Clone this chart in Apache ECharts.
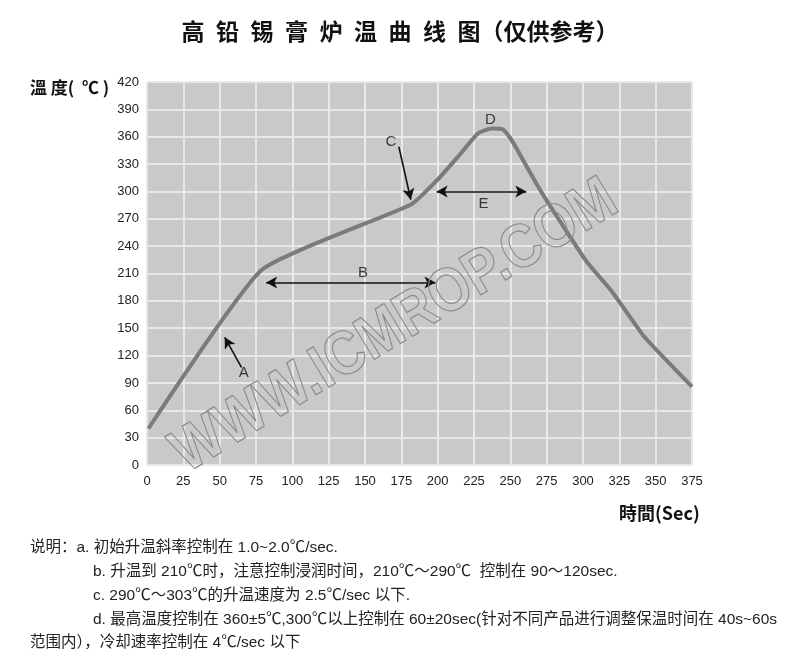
<!DOCTYPE html>
<html>
<head>
<meta charset="utf-8">
<script src="https://cdn.jsdelivr.net/npm/echarts@6/dist/echarts.min.js"></script>
<style>html,body{margin:0;padding:0;background:#fff;}#c{width:800px;height:651px;}</style>
</head>
<body>
<div id="c"></div>
<script>
// ---- data ----
var timeSec = [1, 79, 182, 200, 215, 228, 237, 245, 251, 270, 290, 303, 320, 342, 375];
var tempC   = [40, 214, 286, 313, 340, 364, 369, 368, 356, 303, 253, 222, 190, 141, 86];
var xTicks = {min: 0, max: 375, step: 25};
var yTicks = {min: 0, max: 420, step: 30};
// annotation arrows: [x1,y1,x2,y2, startSymbol, endSymbol]
var arrowA = [65, 107, 53.5, 140, 'none', 'arrow'];
var arrowB = [82, 200, 198.5, 200, 'arrow', 'arrow'];
var arrowC = [173.3, 349, 181.5, 291, 'none', 'arrow'];
var arrowE = [199.3, 300, 261, 300, 'arrow', 'arrow'];
var labelNames = ['A', 'B', 'C', 'D', 'E'];
var labelX = [66.5, 148.6, 167.8, 236.3, 231.5];
var labelY = [101, 211, 354, 378, 286];
var notes = [
  '说明：a. 初始升温斜率控制在 1.0~2.0℃/sec.',
  'b. 升温到 210℃时，注意控制浸润时间，210℃～290℃  控制在 90～120sec.',
  'c. 290℃～303℃的升温速度为 2.5℃/sec 以下.',
  'd. 最高温度控制在 360±5℃,300℃以上控制在 60±20sec(针对不同产品进行调整保温时间在 40s~60s',
  '范围内），冷却速率控制在 4℃/sec 以下'
];
var noteX = [30, 93, 93, 93, 30];
var noteY = [548, 572, 596, 620, 643];

var chart = echarts.init(document.getElementById('c'), null, {renderer: 'canvas'});

function arrowItem(a) {
  return [
    {coord: [a[0], a[1]], symbol: a[4]},
    {coord: [a[2], a[3]], symbol: a[5]}
  ];
}

var seriesData = timeSec.map(function (t, i) { return [t, tempC[i]]; });
var labelData = labelNames.map(function (n, i) { return {name: n, value: [labelX[i], labelY[i]]}; });

var narrow = '"Liberation Sans Narrow", "Liberation Sans", Arial, sans-serif';
var cjk = '"Liberation Sans", "Noto Sans CJK SC", sans-serif';

var graphics = [
  {
    type: 'text', left: 30, top: 79,
    style: {text: '溫 度(  ℃ )', font: 'bold 17px "Noto Sans CJK TC", sans-serif', fill: '#111'}
  },
  {
    type: 'text', left: 619, top: 504,
    style: {text: '時間(Sec)', font: 'bold 18px "Noto Sans CJK TC", sans-serif', fill: '#111'}
  },
  {
    type: 'text', x: 395, y: 327, rotation: 0.545, scaleX: 0.86, z: 100,
    style: {
      text: 'WWW.ICMROP.COM', font: 'bold 62px "Liberation Sans", Arial, sans-serif',
      fill: 'rgba(0,0,0,0)', stroke: '#8a8a8a', lineWidth: 1.2,
      textAlign: 'center', textVerticalAlign: 'middle'
    }
  }
];
notes.forEach(function (t, i) {
  graphics.push({
    type: 'text', x: noteX[i], y: noteY[i],
    style: {text: t, font: '15.5px ' + cjk, fill: '#222', textVerticalAlign: 'middle'}
  });
});

chart.setOption({
  animation: false,
  backgroundColor: '#ffffff',
  title: {
    text: '高\u2002铅\u2002锡\u2002膏\u2002炉\u2002温\u2002曲\u2002线\u2002图（仅供参考）',
    left: 'center', top: 15,
    textStyle: {fontSize: 23, fontWeight: 'bold', color: '#111', fontFamily: '"Noto Sans CJK SC", sans-serif'}
  },
  grid: {
    left: 147, right: 108, top: 82, bottom: 186,
    show: true, backgroundColor: '#c8c9cb', borderWidth: 0
  },
  xAxis: {
    type: 'value', min: xTicks.min, max: xTicks.max, interval: xTicks.step,
    axisLine: {show: false}, axisTick: {show: false},
    axisLabel: {margin: 10, fontSize: 13, color: '#222', fontFamily: narrow},
    splitLine: {show: true, lineStyle: {color: '#e8e8e8', width: 2}}
  },
  yAxis: {
    type: 'value', min: yTicks.min, max: yTicks.max, interval: yTicks.step,
    axisLine: {show: false}, axisTick: {show: false},
    axisLabel: {margin: 8, fontSize: 13, color: '#222', fontFamily: narrow},
    splitLine: {show: true, lineStyle: {color: '#e8e8e8', width: 2}}
  },
  series: [
    {
      type: 'line', data: seriesData, smooth: 0.15, symbol: 'none',
      lineStyle: {color: '#7b7b7b', width: 4},
      markLine: {
        silent: true, animation: false,
        symbolSize: [9, 11],
        label: {show: false},
        lineStyle: {color: '#111', width: 1.6, type: 'solid'},
        data: [arrowItem(arrowA), arrowItem(arrowB), arrowItem(arrowC), arrowItem(arrowE)]
      }
    },
    {
      type: 'scatter', data: labelData, symbolSize: 0,
      label: {show: true, position: 'inside', formatter: '{b}', fontSize: 15, color: '#111', fontFamily: narrow}
    }
  ],
  graphic: graphics
});
</script>
</body>
</html>
